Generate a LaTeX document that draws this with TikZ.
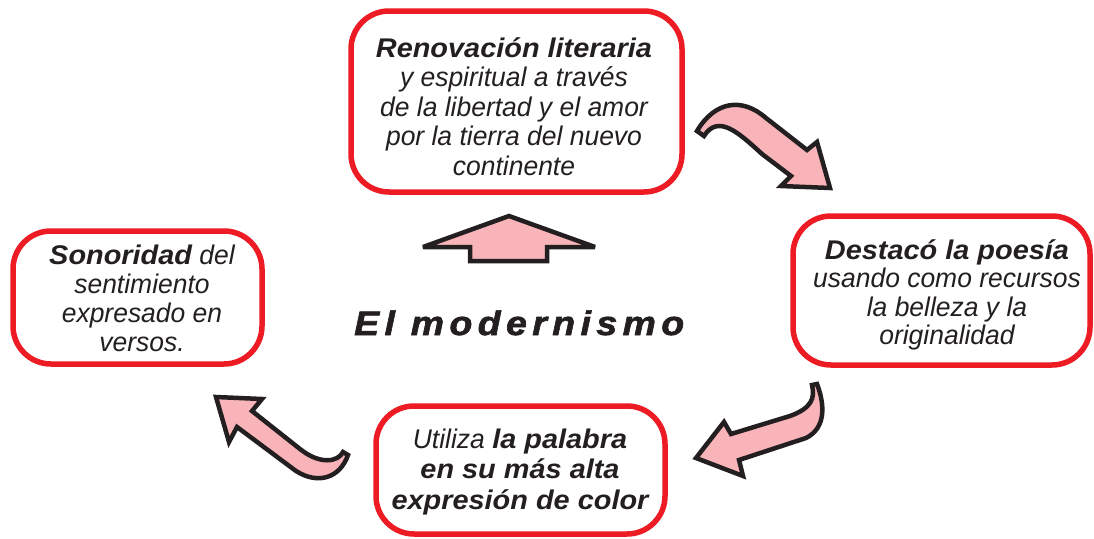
\documentclass[tikz,border=0pt]{standalone}
\usepackage{fontspec}
\setmainfont{Liberation Sans}
\newfontfamily\fregit{Liberation Sans}[FakeStretch=0.98]
\newfontfamily\fboldit{Liberation Sans}[FakeStretch=1.07]
\newfontfamily\ftitle{Liberation Sans}[FakeStretch=1.1,LetterSpace=16,FakeBold=1.8]
\newcommand\bpart{\fboldit\bfseries\itshape}
\newcommand\stacklines[1]{\vtop{\lineskiplimit=-100pt\relax\halign{\hfil##\hfil\cr#1\crcr}}}
\definecolor{boxred}{HTML}{ED1C24}
\definecolor{arrpink}{HTML}{F8B4B8}
\definecolor{ink}{HTML}{231F20}
\begin{document}
\begin{tikzpicture}[x=1pt,y=-1pt,
  box/.style={draw=boxred, line width=5.5pt, rounded corners=38pt, fill=white, inner sep=0pt, outer sep=0pt},
  txt/.style={anchor=base, text=ink, inner sep=0pt, font=\fontsize{27}{29.5}\selectfont\fregit\itshape},
  blockarrow/.style={fill=arrpink, draw=ink, line width=4.5pt, line join=miter, miter limit=3}]
\useasboundingbox (0,0) rectangle (1094,538);
% boxes
\node[box, minimum width=331pt, minimum height=181pt] (top) at (516.5,101.5) {};
\node[box, minimum width=249pt, minimum height=133pt] (left) at (137.5,297.5) {};
\node[box, minimum width=297pt, minimum height=149pt] (right) at (941.5,290.5) {};
\node[box, minimum width=289pt, minimum height=128pt] (bottom) at (520.5,470) {};
% texts
\node[txt] (ttop) at (514,57) {\stacklines{{\bpart Renovación literaria}\cr y espiritual a través\cr de la libertad y el amor\cr por la tierra del nuevo\cr continente}};
\node[txt, font=\fontsize{27}{29.3}\selectfont\fregit\itshape] (tleft) at (142,264) {\stacklines{{\bpart Sonoridad} del\cr sentimiento\cr expresado en\cr versos.}};
\node[txt, font=\fontsize{27}{28.5}\selectfont\fregit\itshape] (tright) at (947,259) {\stacklines{{\bpart Destacó la poesía}\cr usando como recursos\cr la belleza y la\cr originalidad}};
\node[txt, font=\fontsize{27}{30.5}\selectfont\fregit\itshape] (tbottom) at (520,448) {\stacklines{Utiliza {\bpart la palabra}\cr {\bpart en su más alta}\cr {\bpart expresión de color}}};
\node[text=ink, inner sep=0pt, anchor=base west, font=\fontsize{34}{38}\selectfont\ftitle\bfseries\itshape] (title) at (354,335) {El modernismo};
% up arrow
\draw[blockarrow] (509,216) -- (595,247) -- (547,247) -- (547,261) -- (470,261) -- (470,247) -- (423,247) -- cycle;
% top-right curved arrow
\draw[blockarrow] (697,131) .. controls (715,101) and (742,97) .. (766,118) -- (807,150) -- (817,142) -- (830,188) -- (781,186) -- (791,176) -- (762,154) .. controls (738,132) and (718,114) .. (704,136) -- cycle;
% right-bottom curved arrow
\draw[blockarrow] (817,384) .. controls (825,405) and (826,428) .. (806,438) -- (739,460) -- (743,476) -- (696,458) -- (724,422) -- (731,434) -- (790,416) .. controls (812,408) and (815,398) .. (812,385) -- cycle;
% bottom-left curved arrow
\draw[blockarrow] (216,397) -- (262,399) -- (252,411) -- (300,449) .. controls (320,465) and (338,462) .. (343,452) -- (348,455) .. controls (340,478) and (318,485) .. (296,471) -- (237,427) -- (229,442) -- cycle;
\end{tikzpicture}
\end{document}
